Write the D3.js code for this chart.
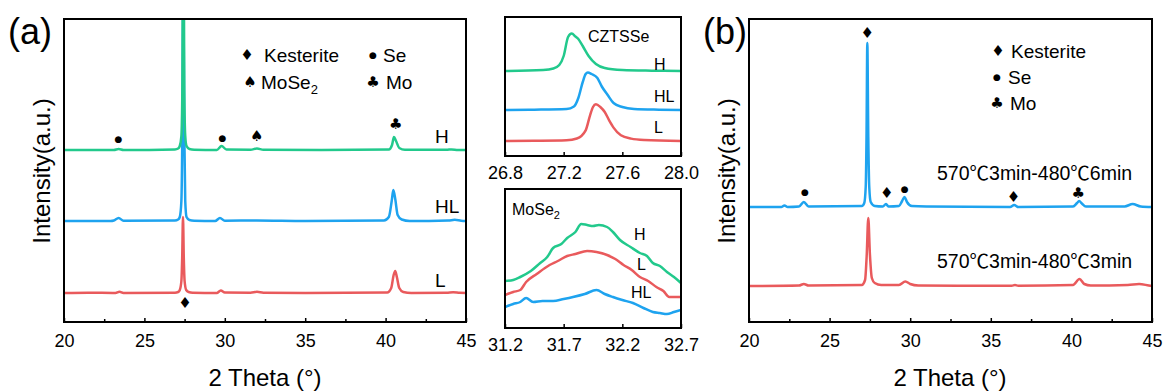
<!DOCTYPE html>
<html>
<head>
<meta charset="utf-8">
<script src="https://cdn.jsdelivr.net/npm/d3@7"></script>
<style>
  body { margin: 0; background: #fff; }
  svg { display: block; font-family: "Liberation Sans", Arial, "Noto Sans CJK SC", sans-serif; }
  .axis path { display: none; }
  .axis line { stroke: #000; stroke-width: 1.5px; }
  .axis text { fill: #000; font-family: "Liberation Sans", Arial, sans-serif; }
  .frame { fill: none; stroke: #000; stroke-width: 2px; }
  .line { fill: none; stroke-width: 2.5px; stroke-linejoin: round; }
  .sym { font-family: "DejaVu Sans", sans-serif; text-anchor: middle; }
</style>
</head>
<body>
<svg width="1163" height="392"></svg>
<script>
var green = "#22c98c", blue = "#1ea3ef", red = "#e95a5c";

// ---------- panel (a): full patterns, relative intensity [2theta, I]
var aL = [[20,0],[21.5,0.3],[23.2,0],[23.45,1.2],[23.7,0],[26.9,0.3],[27.1,1],[27.2,3],[27.3,12],[27.35,35],[27.4,76],[27.45,35],[27.5,12],[27.6,3],[27.75,1],[28.0,0.3],
  [29.5,0],[29.75,2.5],[30.0,0.5],[31.6,0.3],[32.0,1.2],[32.4,0.3],[35,0],[40.1,0.5],[40.35,5],[40.5,18],[40.6,22],[40.7,16],[40.85,5],[41.1,1],[41.6,0],[43.8,0.3],[44.2,0.8],[44.6,0.2],[45,0]];
var aHL = [[20,0],[22.9,0],[23.1,0.5],[23.4,3],[23.7,0.3],[26.9,0.5],[27.1,1.5],[27.2,4],[27.3,20],[27.36,90],[27.42,240],[27.48,90],[27.54,20],[27.62,4],[27.8,1],[28.1,0.3],
  [29.4,0],[29.7,3],[30.0,0.3],[32,0.5],[35,0],[39.9,0.5],[40.2,4],[40.38,20],[40.48,31],[40.6,22],[40.75,6],[41.0,1.5],[41.5,0],[43.9,0.5],[44.3,1.2],[44.7,0.3],[45,0]];
var aH = [[20,0],[23.1,0],[23.4,1],[23.7,0],[26.9,0.5],[27.1,1.5],[27.2,4],[27.3,14],[27.36,60],[27.42,300],[27.48,60],[27.54,14],[27.62,4],[27.8,1],[28.1,0.3],
  [29.5,0],[29.8,4],[30.1,0.5],[31.6,0.3],[32.0,1.5],[32.4,0.3],[36,0],[40.2,0.5],[40.4,5],[40.52,13],[40.65,9],[40.85,2],[41.2,0.3],[43.8,0.2],[44.1,0.6],[44.5,0],[45,0]];
var aOffsets = [29, 101, 172];
var aNames = ["L", "HL", "H"];

var aMarks = [
  {s: "●", x: 23.38, y: 183, size: 9},
  {s: "●", x: 29.85, y: 184.5, size: 9},
  {s: "♠", x: 31.98, y: 186, size: 15},
  {s: "♣", x: 40.63, y: 198, size: 15},
  {s: "♦", x: 27.52, y: 19.5, size: 15}
];

// ---------- inset 1: CZTSSe main peak
var czH = [[26.8,0],[27.06,1],[27.13,2.5],[27.17,6],[27.2,15],[27.23,34],[27.255,37.5],[27.28,34.5],[27.30,32],[27.33,25],[27.37,15],[27.42,7],[27.48,3],[27.6,1],[27.8,0.3],[28.0,0]];
var czHL = [[26.8,0],[27.0,0.3],[27.22,1],[27.27,3.5],[27.30,12],[27.33,28],[27.35,36],[27.365,37.5],[27.39,36],[27.43,32],[27.46,23.5],[27.5,15],[27.54,7],[27.6,3],[27.68,1],[27.85,0.3],[28.0,0]];
var czL = [[26.8,0],[27.0,0.2],[27.22,0.7],[27.29,2.5],[27.35,10.7],[27.38,25.7],[27.40,34],[27.42,36.7],[27.45,34],[27.48,29],[27.51,20.7],[27.54,13.4],[27.59,5.7],[27.66,2.4],[27.75,1],[28.0,0]];
var czOffsets = [15, 46, 85];

// ---------- inset 2: MoSe2 hump (absolute)
var msH = [[31.2,47],[31.27,48],[31.33,51],[31.42,57],[31.5,65],[31.56,71],[31.61,80],[31.68,84],[31.73,90],[31.8,96],[31.85,104],[31.9,103],[31.95,102],[32.0,103],[32.07,101],[32.12,96],[32.18,88],[32.27,81],[32.35,75],[32.41,72],[32.46,65],[32.52,62],[32.58,56],[32.64,51],[32.7,45]];
var msL = [[31.2,33],[31.27,36],[31.33,38],[31.38,46],[31.47,54],[31.58,63],[31.65,67],[31.73,72],[31.8,74],[31.9,77],[31.98,76],[32.07,73],[32.14,69],[32.21,63],[32.28,58],[32.35,51],[32.42,47],[32.49,41],[32.55,37],[32.6,31],[32.65,31],[32.7,31]];
var msHL = [[31.2,21],[31.27,24],[31.33,26],[31.38,30],[31.44,26],[31.52,27],[31.61,27],[31.7,29],[31.78,31],[31.88,34],[31.98,38],[32.05,34],[32.12,31],[32.2,28],[32.29,25],[32.38,20],[32.46,16],[32.52,15],[32.58,14],[32.64,16],[32.7,18]];

// ---------- panel (b)
var b6 = [[20,0],[22.0,0],[22.2,1.5],[22.4,0],[23.1,0.5],[23.4,5],[23.7,0.5],[27.0,1],[27.15,4],[27.24,20],[27.29,70],[27.34,164],[27.4,70],[27.46,20],[27.55,5],[27.8,1],
  [28.3,0.5],[28.5,3],[28.65,0.5],[29.3,1],[29.5,6],[29.65,10],[29.8,5],[30.1,1],[31.0,0.5],[36.2,0],[36.45,2],[36.7,0],[40.1,0.5],[40.35,4],[40.48,6],[40.65,3.5],[40.9,0.5],[43.3,0.5],[43.8,3],[44.3,0.5],[45,0]];
var b3 = [[20,0],[23.1,0.5],[23.4,2],[23.7,0.5],[27.0,1],[27.2,6],[27.3,30],[27.4,68],[27.5,32],[27.62,8],[27.8,3],[28.2,1],
  [29.3,1],[29.7,4.5],[30.0,2],[30.5,0.5],[36.3,0.3],[36.5,1],[36.7,0.3],[40.1,1],[40.5,7],[40.8,2],[41.2,0.5],[43.5,1],[44.2,2],[44.8,0.5],[45,0]];
var bOffsets = [36, 115];
var bNames = ["570℃3min-480℃3min", "570℃3min-480℃6min"];

var bMarks = [
  {s: "♦", x: 27.34, y: 289, size: 15},
  {s: "●", x: 23.47, y: 130.5, size: 9},
  {s: "♦", x: 28.54, y: 129.5, size: 15},
  {s: "●", x: 29.65, y: 133, size: 9},
  {s: "♦", x: 36.4, y: 125.5, size: 15},
  {s: "♣", x: 40.43, y: 129, size: 15}
];

var svg = d3.select("svg");

function panel(id, box, xdom, ydom, major, minor, labels, labelSize, pad) {
  var x = d3.scaleLinear().domain(xdom).range([box.x0, box.x1]);
  var y = d3.scaleLinear().domain(ydom).range([box.y1, box.y0]);
  svg.append("clipPath").attr("id", id)
    .append("rect").attr("x", box.x0).attr("y", box.y0)
    .attr("width", box.x1 - box.x0).attr("height", box.y1 - box.y0);
  var g = svg.append("g");
  g.append("g").attr("class", "axis")
    .attr("transform", "translate(0," + box.y1 + ")")
    .call(d3.axisBottom(x).tickValues(major).tickSizeInner(-4).tickSizeOuter(0).tickPadding(pad)
      .tickFormat(function(d, i) { return labels[i]; }))
    .selectAll("text").style("font-size", labelSize + "px");
  if (minor.length) {
    g.append("g").attr("class", "axis")
      .attr("transform", "translate(0," + box.y1 + ")")
      .call(d3.axisBottom(x).tickValues(minor).tickSizeInner(-3).tickSizeOuter(0).tickFormat(""));
  }
  var plot = svg.append("g").attr("clip-path", "url(#" + id + ")");
  svg.append("rect").attr("class", "frame")
    .attr("x", box.x0).attr("y", box.y0)
    .attr("width", box.x1 - box.x0).attr("height", box.y1 - box.y0);
  return {x: x, y: y, plot: plot};
}

function series(p, data, off, color) {
  var line = d3.line()
    .curve(d3.curveMonotoneX)
    .x(function(d) { return p.x(d[0]); })
    .y(function(d) { return p.y(d[1] + off); });
  p.plot.append("path").datum(data).attr("class", "line")
    .attr("stroke", color).attr("d", line);
}

function marks(p, list) {
  svg.selectAll(null).data(list).enter().append("text")
    .attr("class", "sym")
    .attr("x", function(d) { return p.x(d.x); })
    .attr("y", function(d) { return p.y(d.y); })
    .attr("dy", "0.35em")
    .style("font-size", function(d) { return d.size + "px"; })
    .text(function(d) { return d.s; });
}

function label(tx, x, y, size, anchor) {
  return svg.append("text").attr("x", x).attr("y", y)
    .attr("text-anchor", anchor || "start")
    .style("font-size", size + "px").text(tx);
}

function sym(s, x, y, size) {
  svg.append("text").attr("class", "sym").attr("x", x).attr("y", y)
    .attr("dy", "0.35em").style("font-size", size + "px").text(s);
}

// ---- (a)
var pa = panel("clipA", {x0: 64, x1: 466, y0: 19, y1: 322}, [20, 45], [0, 303],
  [20, 25, 30, 35, 40, 45], [22.5, 27.5, 32.5, 37.5, 42.5], ["20", "25", "30", "35", "40", "45"], 18, 12);
series(pa, aHL, aOffsets[1], blue);
series(pa, aL, aOffsets[0], red);
series(pa, aH, aOffsets[2], green);
marks(pa, aMarks);
label("H", 435, 143, 19);
label("HL", 435, 213, 19);
label("L", 435, 287, 19);
sym("♦", 247, 55, 15); label("Kesterite", 264, 62, 19);
sym("●", 373, 55, 9); label("Se", 383, 62, 19);
sym("♠", 250, 82, 15);
label("MoSe", 261, 89, 19).append("tspan").attr("dy", 5).style("font-size", "13px").text("2");
sym("♣", 373, 82, 15); label("Mo", 386, 89, 19);
label("2 Theta (°)", 265, 386, 24, "middle");
svg.append("text").attr("transform", "translate(50,171) rotate(-90)")
  .attr("text-anchor", "middle").style("font-size", "24px").text("Intensity(a.u.)");
label("(a)", 8, 44, 36);

// ---- inset CZTSSe
var pc = panel("clipC", {x0: 505, x1: 681, y0: 17, y1: 156}, [26.8, 28.0], [0, 139],
  [26.8, 27.2, 27.6, 28.0], [], ["26.8", "27.2", "27.6", "28.0"], 18, 10);
series(pc, czL, czOffsets[0], red);
series(pc, czHL, czOffsets[1], blue);
series(pc, czH, czOffsets[2], green);
label("CZTSSe", 588, 42, 16);
label("H", 654, 70, 16);
label("HL", 654, 102, 16);
label("L", 654, 133, 16);

// ---- inset MoSe2
var pm = panel("clipM", {x0: 505, x1: 681, y0: 189, y1: 328}, [31.2, 32.7], [0, 139],
  [31.2, 31.7, 32.2, 32.7], [], ["31.2", "31.7", "32.2", "32.7"], 18, 10);
series(pm, msHL, 0, blue);
series(pm, msL, 0, red);
series(pm, msH, 0, green);
label("MoSe", 512, 215, 16).append("tspan").attr("dy", 4).style("font-size", "11px").text("2");
label("H", 634, 240, 16);
label("L", 637, 270, 16);
label("HL", 631, 298, 16);

// ---- (b)
var pb = panel("clipB", {x0: 749, x1: 1152, y0: 19, y1: 322}, [20, 45], [0, 303],
  [20, 25, 30, 35, 40, 45], [22.5, 27.5, 32.5, 37.5, 42.5], ["20", "25", "30", "35", "40", "45"], 18, 12);
series(pb, b3, bOffsets[0], red);
series(pb, b6, bOffsets[1], blue);
marks(pb, bMarks);
label(bNames[1], 937, 180, 19.5);
label(bNames[0], 937, 268, 19.5);
sym("♦", 998, 51, 15); label("Kesterite", 1011, 58, 19);
sym("●", 997, 77, 9); label("Se", 1008, 84, 19);
sym("♣", 997, 103, 15); label("Mo", 1010, 110, 19);
label("2 Theta (°)", 950, 386, 24, "middle");
svg.append("text").attr("transform", "translate(735,171) rotate(-90)")
  .attr("text-anchor", "middle").style("font-size", "24px").text("Intensity(a.u.)");
label("(b)", 703, 44, 36);
</script>
</body>
</html>
